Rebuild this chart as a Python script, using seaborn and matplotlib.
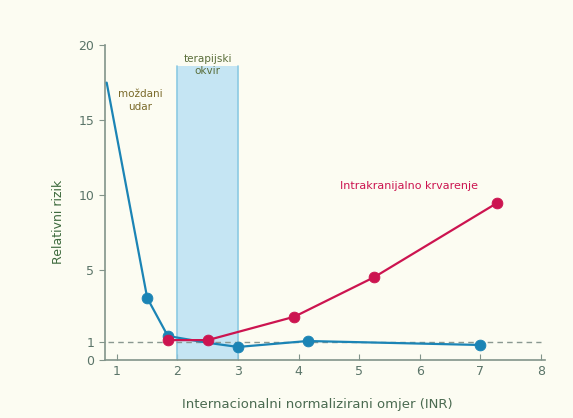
import matplotlib.pyplot as plt
import numpy as np
import pandas as pd
import seaborn as sns

# blue curve - moždani udar (stroke)
stroke_inr = [0.83, 1.5, 1.84, 2.5, 3.0, 4.15, 7.0]
stroke_risk = [17.5, 3.44, 1.33, 0.95, 0.72, 1.05, 0.83]
stroke_marked = [False, True, True, False, True, True, True]

# red curve - intrakranijalno krvarenje
bleed_inr = [1.84, 2.5, 3.93, 5.25, 7.28]
bleed_risk = [1.1, 1.1, 2.4, 4.6, 9.47]

x_ticks = [1, 2, 3, 4, 5, 6, 7, 8]
y_ticks = [0, 1, 5, 10, 15, 20]
band = (2, 3, 18.6)

BLUE = '#1b84b5'
RED = '#cc1450'
BG = '#fcfcf2'
AXIS = '#82948a'
TXT = '#5a7468'


def fwd(y):
    # the original axis is stretched a bit below 5
    return np.interp(y, [0, 5, 20], [0, 90, 315])


def inv(v):
    return np.interp(v, [0, 90, 315], [0, 5, 20])


def main():
    sns.set_style('ticks')
    plt.rcParams['font.family'] = ['DejaVu Sans']

    fig = plt.figure(figsize=(5.73, 4.18), dpi=100, facecolor=BG)
    ax = fig.add_axes([0.183, 0.139, 0.768, 0.753])
    ax.set_facecolor(BG)
    ax.set_yscale('function', functions=(fwd, inv))

    # therapeutic window
    ax.fill_between([band[0], band[1]], 0, band[2], color='#c5e5f3',
                    zorder=0, lw=0)
    for xb in band[:2]:
        ax.plot([xb, xb], [0, band[2]], color='#8ccae3', lw=1.2, zorder=1)

    ax.plot([0.85, 8.0], [1, 1], color='#8a9890', lw=1, ls=(0, (4, 3)),
            zorder=1)

    stroke = pd.DataFrame({'inr': stroke_inr, 'risk': stroke_risk,
                           'mark': stroke_marked})
    bleed = pd.DataFrame({'inr': bleed_inr, 'risk': bleed_risk})

    sns.lineplot(data=stroke, x='inr', y='risk', color=BLUE, lw=1.6,
                 sort=False, ax=ax, zorder=3)
    sns.scatterplot(data=stroke[stroke['mark']], x='inr', y='risk',
                    color=BLUE, s=60, edgecolor=BLUE, ax=ax, zorder=4)
    sns.lineplot(data=bleed, x='inr', y='risk', color=RED, lw=1.6,
                 sort=False, ax=ax, zorder=5)
    sns.scatterplot(data=bleed, x='inr', y='risk', color=RED, s=60,
                    edgecolor=RED, ax=ax, zorder=6)

    ax.text(2.5, 18.65, 'terapijski\nokvir', ha='center', va='center',
            fontsize=7.5, color='#5a6e3a', linespacing=1.25)
    ax.text(1.38, 16.3, 'moždani\nudar', ha='center', va='center',
            fontsize=7.5, color='#7a6a2a', linespacing=1.3)
    ax.text(5.83, 10.6, 'Intrakranijalno krvarenje', ha='center',
            va='center', fontsize=8, color=RED)

    ax.set_xlim(0.8, 8.07)
    ax.set_ylim(0, 20)
    ax.set_xticks(x_ticks)
    ax.set_yticks(y_ticks)
    ax.set_xlabel('Internacionalni normalizirani omjer (INR)', fontsize=9.5,
                  color='#4a6a50')
    ax.set_ylabel('Relativni rizik', fontsize=9, color='#3d6a3d')
    ax.xaxis.set_label_coords(0.482, -0.122)
    ax.yaxis.set_label_coords(-0.09, 0.44)
    ax.tick_params(axis='x', direction='in', colors=AXIS, labelcolor=TXT,
                   labelsize=9, length=4)
    ax.tick_params(axis='y', direction='out', colors=AXIS, labelcolor=TXT,
                   labelsize=9, length=4)
    sns.despine(ax=ax)
    for s in ('left', 'bottom'):
        ax.spines[s].set_color(AXIS)
        ax.spines[s].set_linewidth(1.2)

    fig.savefig('out.png', dpi=100, facecolor=BG)


if __name__ == '__main__':
    main()
